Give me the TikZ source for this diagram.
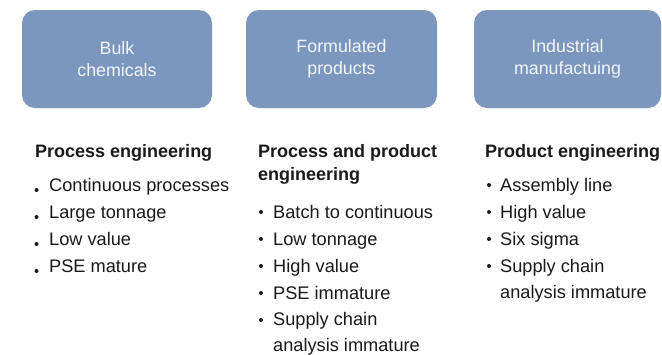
\documentclass[tikz,border=0pt]{standalone}
\usepackage{fontspec}
\setmainfont{Liberation Sans}
\definecolor{boxblue}{RGB}{124,151,189}
\definecolor{boxtext}{RGB}{242,245,250}
\definecolor{ink}{RGB}{26,26,26}
\begin{document}
\begin{tikzpicture}[x=1pt,y=-1pt,
  box/.style={fill=boxblue,draw=none,rounded corners=13pt,minimum height=98pt,
    text=boxtext,align=center,font=\fontsize{17.8}{21.5}\selectfont,inner sep=0pt},
  head/.style={anchor=base west,inner sep=0pt,text=ink,align=left,
    font=\fontsize{18}{23}\selectfont\bfseries},
  item/.style={anchor=base west,inner sep=0pt,text=ink,align=left,
    font=\fontsize{18.2}{26}\selectfont},
  dot/.style={circle,fill=ink,inner sep=0pt,minimum size=4pt},
  lowdot/.style={circle,fill=ink,inner sep=0pt,minimum size=4pt}]
\useasboundingbox (0,0) rectangle (662,354);
\fill[white] (0,0) rectangle (662,354);
% boxes
\node[box,minimum width=190pt] (bulk) at (117,59) {Bulk\\chemicals};
\node[box,minimum width=191pt] (form) at (341.5,59) {Formulated\\products};
\node[box,minimum width=187pt] (ind) at (567.5,59) {Industrial\\manufactuing};
% left column
\node[head] (h1) at (35,157) {Process engineering};
\node[lowdot] (d11) at (36.5,190) {};
\node[item] (i11) at (49,191) {Continuous processes};
\node[lowdot] (d12) at (36.5,217) {};
\node[item] (i12) at (49,218) {Large tonnage};
\node[lowdot] (d13) at (36.5,244) {};
\node[item] (i13) at (49,245) {Low value};
\node[lowdot] (d14) at (36.5,271) {};
\node[item] (i14) at (49,272) {PSE mature};
% middle column
\node[head] (h2) at (258,180) {Process and product\\engineering};
\node[dot] (d21) at (261,212) {};
\node[item] (i21) at (273,218) {Batch to continuous};
\node[dot] (d22) at (261,239) {};
\node[item] (i22) at (273,245) {Low tonnage};
\node[dot] (d23) at (261,266) {};
\node[item] (i23) at (273,272) {High value};
\node[dot] (d24) at (261,293) {};
\node[item] (i24) at (273,299) {PSE immature};
\node[dot] (d25) at (261,320) {};
\node[item] (i25) at (273,351) {Supply chain\\analysis immature};
% right column
\node[head] (h3) at (485,157) {Product engineering};
\node[dot] (d31) at (489,185) {};
\node[item] (i31) at (500,191) {Assembly line};
\node[dot] (d32) at (489,212) {};
\node[item] (i32) at (500,218) {High value};
\node[dot] (d33) at (489,239) {};
\node[item] (i33) at (500,245) {Six sigma};
\node[dot] (d34) at (489,266) {};
\node[item] (i34) at (500,298) {Supply chain\\analysis immature};
\end{tikzpicture}
\end{document}
